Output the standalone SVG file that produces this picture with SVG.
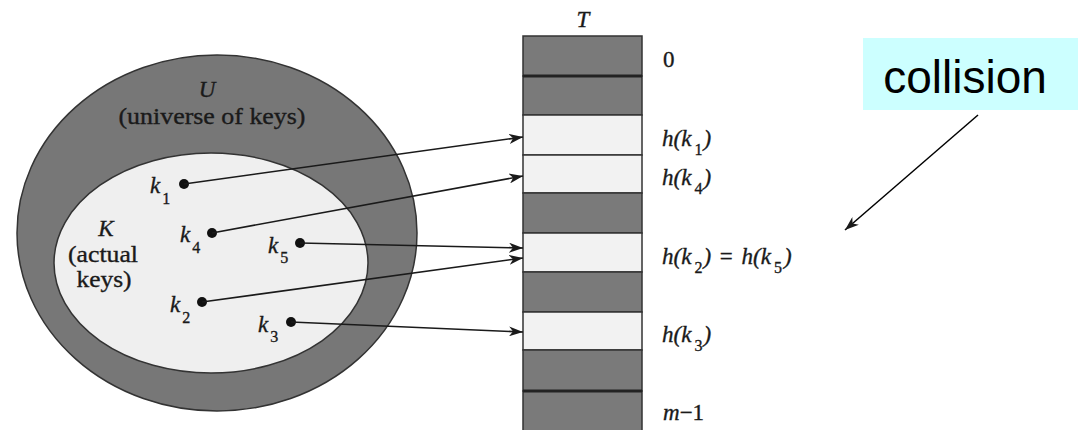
<svg xmlns="http://www.w3.org/2000/svg" width="1080" height="430" viewBox="0 0 1080 430">
  <style>
    .serif { font-family: "Liberation Serif", "Times New Roman", serif; fill: #1a1a1a; stroke: #1a1a1a; stroke-width: 0.35; }
    .it { font-style: italic; }
    .dark { fill: #7a7a7a; stroke: #333; stroke-width: 1.5; }
    .light { fill: #f2f2f2; stroke: #333; stroke-width: 1.5; }
    .sep { stroke: #222; stroke-width: 3; }
    .dot { fill: #111; }
    .conn { stroke: #1a1a1a; stroke-width: 1.6; fill: none; marker-end: url(#arrow); }
    .label { font-size: 23px; }
    .key { font-size: 23px; }
    .sub { font-size: 16px; font-style: normal; }
    .slot { font-size: 23px; }
  </style>
  <defs>
    <marker id="arrow" markerUnits="userSpaceOnUse" markerWidth="16" markerHeight="10" refX="14" refY="5" orient="auto">
      <path d="M0,0 L14,5 L0,10 L4,5 z" fill="#1a1a1a"/>
    </marker>
  </defs>
  <rect width="1080" height="430" fill="#ffffff"/>

  <g id="universe">
    <ellipse cx="217" cy="233" rx="200" ry="178" fill="#777777" stroke="#333" stroke-width="1.5"/>
    <text class="serif it label" x="207" y="97" text-anchor="middle">U</text>
    <text class="serif label" x="212" y="124" text-anchor="middle" textLength="187" lengthAdjust="spacingAndGlyphs">(universe of keys)</text>
  </g>

  <g id="actual-keys">
    <ellipse cx="211" cy="263" rx="157" ry="110" fill="#efefef" stroke="#333" stroke-width="1.5"/>
    <text class="serif it label" x="106" y="236" text-anchor="middle">K</text>
    <text class="serif label" x="103" y="262" text-anchor="middle" textLength="70" lengthAdjust="spacingAndGlyphs">(actual</text>
    <text class="serif label" x="104" y="287" text-anchor="middle" textLength="55" lengthAdjust="spacingAndGlyphs">keys)</text>
  </g>

  <g id="k1">
    <circle class="dot" cx="184" cy="184" r="5"/>
    <text class="serif it key" x="150" y="193">k<tspan class="sub" dx="2" dy="11">1</tspan></text>
  </g>
  <g id="k4">
    <circle class="dot" cx="212" cy="233" r="5"/>
    <text class="serif it key" x="180" y="242">k<tspan class="sub" dx="2" dy="11">4</tspan></text>
  </g>
  <g id="k5">
    <circle class="dot" cx="300" cy="243" r="5"/>
    <text class="serif it key" x="268" y="253">k<tspan class="sub" dx="2" dy="10">5</tspan></text>
  </g>
  <g id="k2">
    <circle class="dot" cx="202" cy="302" r="5"/>
    <text class="serif it key" x="170" y="312">k<tspan class="sub" dx="2" dy="11">2</tspan></text>
  </g>
  <g id="k3">
    <circle class="dot" cx="291" cy="322" r="5"/>
    <text class="serif it key" x="258" y="332">k<tspan class="sub" dx="2" dy="10">3</tspan></text>
  </g>

  <g id="table">
    <text class="serif it label" x="583" y="27" text-anchor="middle">T</text>
    <rect class="dark" x="523" y="36" width="119" height="40"/>
    <rect class="dark" x="523" y="76" width="119" height="39"/>
    <rect class="light" x="523" y="115" width="119" height="40"/>
    <rect class="light" x="523" y="155" width="119" height="38"/>
    <rect class="dark" x="523" y="193" width="119" height="40"/>
    <rect class="light" x="523" y="233" width="119" height="39"/>
    <rect class="dark" x="523" y="272" width="119" height="40"/>
    <rect class="light" x="523" y="312" width="119" height="38"/>
    <rect class="dark" x="523" y="350" width="119" height="41"/>
    <rect class="dark" x="523" y="391" width="119" height="45"/>
    <line class="sep" x1="523" y1="76" x2="642" y2="76"/>
    <line class="sep" x1="523" y1="391" x2="642" y2="391"/>
  </g>

  <g id="slot-labels">
    <text class="serif slot" x="663" y="67">0</text>
    <text class="serif it slot" x="662" y="146">h(k<tspan class="sub" dx="3" dy="9">1</tspan><tspan dx="1" dy="-9">)</tspan></text>
    <text class="serif it slot" x="662" y="185">h(k<tspan class="sub" dx="3" dy="9">4</tspan><tspan dx="1" dy="-9">)</tspan></text>
    <text class="serif it slot" x="662" y="264">h(k<tspan class="sub" dx="3" dy="9">2</tspan><tspan dx="1" dy="-9">) </tspan><tspan dx="3" style="font-style:normal">=</tspan><tspan dx="3"> h(k</tspan><tspan class="sub" dx="3" dy="9">5</tspan><tspan dx="2" dy="-9">)</tspan></text>
    <text class="serif it slot" x="662" y="342">h(k<tspan class="sub" dx="3" dy="9">3</tspan><tspan dx="1" dy="-9">)</tspan></text>
    <text class="serif slot" x="663" y="420"><tspan class="it">m</tspan>−1</text>
  </g>

  <g id="collision">
    <rect x="863" y="38" width="215" height="72" fill="#ccffff"/>
    <text x="965" y="93" text-anchor="middle" font-family="Liberation Sans, Arial, sans-serif" font-size="46" fill="#000">collision</text>
  </g>

  <g id="connectors">
    <line class="conn" x1="184" y1="184" x2="523" y2="137"/>
    <line class="conn" x1="212" y1="233" x2="523" y2="176"/>
    <line class="conn" x1="300" y1="243" x2="523" y2="248"/>
    <line class="conn" x1="202" y1="302" x2="523" y2="258"/>
    <line class="conn" x1="291" y1="322" x2="523" y2="332"/>
    <line class="conn" x1="978" y1="115" x2="845" y2="230" style="stroke:#000;stroke-width:1.5"/>
  </g>
</svg>
